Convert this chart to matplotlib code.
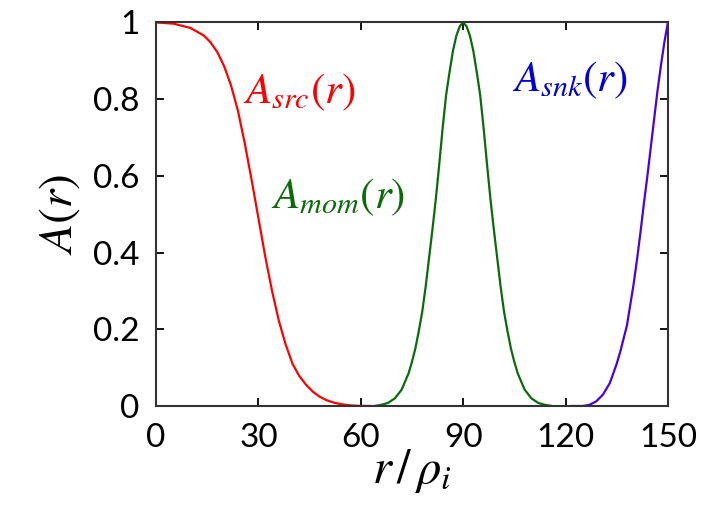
import matplotlib.pyplot as plt

plt.rcParams['font.family'] = ['Lato', 'DejaVu Sans']
plt.rcParams['mathtext.fontset'] = 'stix'

r_src = [0, 5, 10, 14, 16, 18, 20, 22, 24, 26, 28, 30, 31, 32, 34, 36, 38, 40, 42, 44, 46, 48, 50, 52, 54, 57, 60, 63]
a_src = [1.0, 0.997, 0.986, 0.966, 0.948, 0.922, 0.885, 0.835, 0.77, 0.685, 0.59, 0.49, 0.44, 0.39, 0.30,
         0.222, 0.16, 0.11, 0.078, 0.055, 0.037, 0.024, 0.015, 0.009, 0.005, 0.0015, 0.0003, 0.0]

r_mom = [64, 66, 68, 70, 72, 74, 75, 76, 77, 78, 79, 80, 81, 82, 83, 84, 85, 86, 87, 88, 89, 90,
         91, 92, 93, 94, 95, 96, 97, 98, 99, 100, 101, 102, 103, 104, 105, 106, 108, 110, 112, 114, 116]
a_mom = [0.0, 0.003, 0.008, 0.02, 0.043, 0.085, 0.115, 0.15, 0.195, 0.245, 0.31, 0.385, 0.46, 0.54, 0.63,
         0.725, 0.81, 0.87, 0.925, 0.965, 0.99, 1.0,
         0.99, 0.965, 0.925, 0.87, 0.81, 0.725, 0.63, 0.54, 0.46, 0.385, 0.31, 0.245, 0.195, 0.15, 0.115,
         0.085, 0.043, 0.02, 0.008, 0.003, 0.0]

r_snk = [122, 125, 127, 129, 131, 133, 135, 136, 137, 138, 139, 140, 141, 142, 143, 144, 145, 146, 147, 148, 149, 150]
a_snk = [0.0, 0.0, 0.003, 0.012, 0.03, 0.06, 0.11, 0.14, 0.175, 0.21, 0.265, 0.32, 0.385, 0.455, 0.53, 0.60,
         0.675, 0.75, 0.825, 0.89, 0.95, 1.0]

xticks = [0, 30, 60, 90, 120, 150]
yticks = [0, 0.2, 0.4, 0.6, 0.8, 1]
ytick_labels = ['0', '0.2', '0.4', '0.6', '0.8', '1']

red = '#ff0000'
green = '#0b6b0b'
blue_line = '#4a00e0'
blue_text = '#0000dd'

fig = plt.figure(figsize=(7.06, 5.08), dpi=100)
ax = fig.add_axes([0.221, 0.2008, 0.725, 0.755])

ax.plot(r_src, a_src, color=red, lw=1.6)
ax.plot(r_mom, a_mom, color=green, lw=1.6)
ax.plot(r_snk, a_snk, color=blue_line, lw=1.6)

ax.set_xlim(0, 150)
ax.set_ylim(0, 1)
ax.set_xticks(xticks)
ax.set_yticks(yticks)
ax.set_yticklabels(ytick_labels)
ax.tick_params(direction='in', length=6, width=1.3, top=True, right=True,
               labelsize=24, pad=12, colors='black')
for s in ax.spines.values():
    s.set_linewidth(1.5)
    s.set_color('#333333')

ax.set_xlabel(r'$r\,/\,\rho_i$', fontsize=35, labelpad=-4)
ax.set_ylabel(r'$A(r)$', fontsize=34, labelpad=8)

ax.text(25.5, 0.79, r'$A_{src}(r)$', color=red, fontsize=31, ha='left', va='baseline')
ax.text(33.8, 0.516, r'$A_{mom}(r)$', color=green, fontsize=31, ha='left', va='baseline')
ax.text(104.2, 0.82, r'$A_{snk}(r)$', color=blue_text, fontsize=31, ha='left', va='baseline')

fig.savefig('out.png', dpi=100)
